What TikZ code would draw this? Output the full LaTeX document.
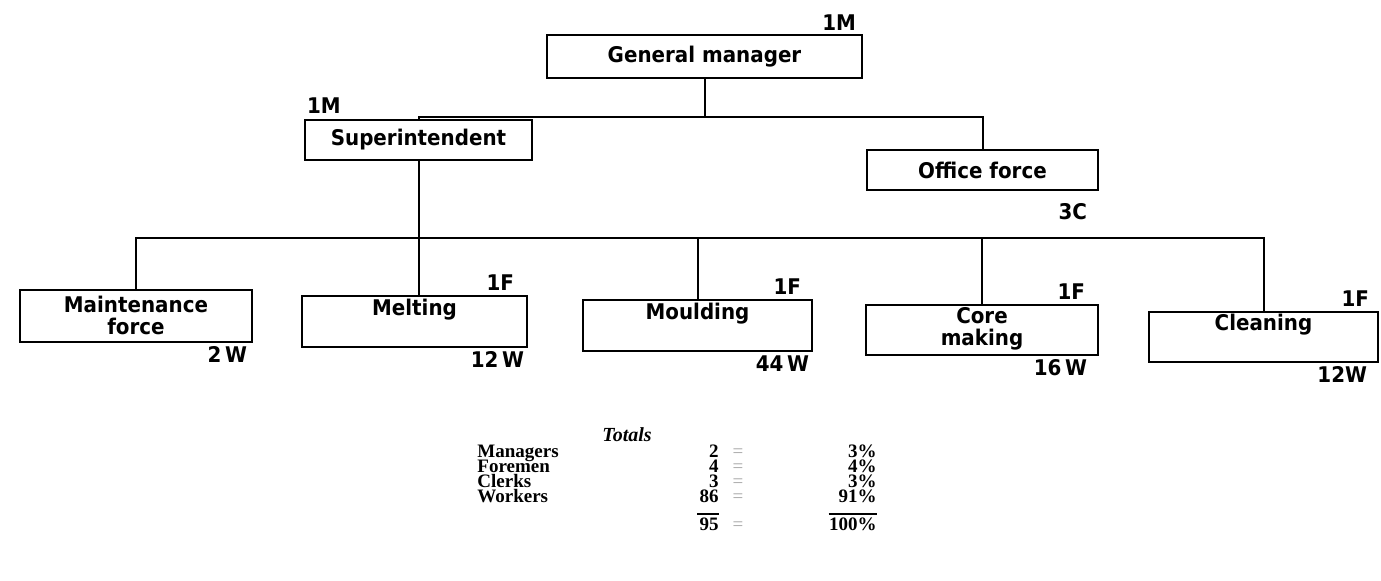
\documentclass[tikz,border=0pt]{standalone}
\usepackage{fontspec}
\setmainfont{Liberation Serif}
\newfontfamily\chartfont{DejaVu Sans}[FakeStretch=0.92]
\usetikzlibrary{calc}
\begin{document}
% one unit = 0.5pt, y grows downwards
\begin{tikzpicture}[x=0.5pt,y=-0.5pt,
  orgbox/.style={draw, line width=1.4pt, inner sep=0pt},
  link/.style={line width=1pt},
  lbl/.style={font=\chartfont\bfseries\fontsize{10.8}{12}\selectfont, inner sep=0pt},
  cnt/.style={font=\chartfont\bfseries\fontsize{10.8}{12}\selectfont, inner sep=0pt},
  tot/.style={font=\bfseries\fontsize{9.5}{10}\selectfont, inner sep=0pt,
              text height=6.4pt, text depth=0.6pt},
  eq/.style={font=\fontsize{9.5}{10}\selectfont, inner sep=0pt, text=black!35,
             text height=6.4pt, text depth=0.6pt}]
\useasboundingbox (0,0) rectangle (1381,580);

% boxes
\node[orgbox, minimum width=157.5pt, minimum height=21.5pt] (gm) at (704.5,56.5) {};
\node[orgbox, minimum width=113.5pt, minimum height=20pt] (sup) at (418.5,140) {};
\node[orgbox, minimum width=115.5pt, minimum height=20pt] (off) at (982.5,170) {};
\node[orgbox, minimum width=116pt, minimum height=26pt] (maint) at (136,316) {};
\node[orgbox, minimum width=112.5pt, minimum height=25.5pt] (melt) at (414.5,321.5) {};
\node[orgbox, minimum width=114.5pt, minimum height=25.5pt] (mould) at (697.5,325.5) {};
\node[orgbox, minimum width=116pt, minimum height=25pt] (core) at (982,330) {};
\node[orgbox, minimum width=114.5pt, minimum height=25pt] (clean) at (1263.5,337) {};

% box titles
\node[lbl] (tgm) at (gm) {General manager};
\node[lbl] (tsup) at (sup) {Superintendent};
\node[lbl] (toff) at (off) {Office force};
\node[lbl, align=center] (tmaint) at ($(maint)+(0,-1)$) {Maintenance\\[-1pt]force};
\node[lbl] (tmelt) at ($(melt)+(0,-12)$) {Melting};
\node[lbl] (tmould) at ($(mould)+(0,-12)$) {Moulding};
\node[lbl, align=center] (tcore) at ($(core)+(0,-1)$) {Core\\[-1pt]making};
\node[lbl] (tclean) at ($(clean)+(0,-12)$) {Cleaning};

% staff counts
\node[cnt, anchor=south east] (cgm) at ($(gm.north east)+(-7,-3)$) {1M};
\node[cnt, anchor=south west] (csup) at ($(sup.north west)+(3,-5)$) {1M};
\node[cnt, anchor=north east] (coff) at ($(off.south east)+(-12,12)$) {3C};
\node[cnt, anchor=north east] (wmaint) at ($(maint.south east)+(-6,3)$) {2\,W};
\node[cnt, anchor=south east] (fmelt) at ($(melt.north east)+(-14,-4)$) {1F};
\node[cnt, anchor=north east] (wmelt) at ($(melt.south east)+(-4,3)$) {12\,W};
\node[cnt, anchor=south east] (fmould) at ($(mould.north east)+(-12,-4)$) {1F};
\node[cnt, anchor=north east] (wmould) at ($(mould.south east)+(-4,3)$) {44\,W};
\node[cnt, anchor=north east] (wcore) at ($(core.south east)+(-12,3)$) {16\,W};
\node[cnt, anchor=south east] (fcore) at ($(core.north east)+(-14,-4)$) {1F};
\node[cnt, anchor=south east] (fclean) at ($(clean.north east)+(-10,-4)$) {1F};
\node[cnt, anchor=north east] (wclean) at ($(clean.south east)+(-12,3)$) {12W};

% connectors
\coordinate (busA) at (0,117);
\coordinate (busB) at (0,238);
\draw[link] (gm.south) -- (gm.south |- busA);
\draw[link] (sup.north) -- (sup.north |- busA) -- (off.north |- busA) -- (off.north);
\draw[link] (sup.south) -- (sup.south |- melt.north);
\draw[link] (maint.north) -- (maint.north |- busB) -- (clean.north |- busB) -- (clean.north);
\draw[link] (mould.north) -- (mould.north |- busB);
\draw[link] (core.north) -- (core.north |- busB);

% totals table
\node[tot, font=\bfseries\itshape\fontsize{10}{10}\selectfont, anchor=base] (ttl) at (627,441) {Totals};
\node[tot, anchor=base west] (rm) at (477,457) {Managers};
\node[tot, anchor=base west] (rf) at (477,472) {Foremen};
\node[tot, anchor=base west] (rc) at (477,487) {Clerks};
\node[tot, anchor=base west] (rw) at (477,502) {Workers};
\node[tot, anchor=base east] (nm) at (719,457) {2};
\node[tot, anchor=base east] (nf) at (719,472) {4};
\node[tot, anchor=base east] (nc) at (719,487) {3};
\node[tot, anchor=base east] (nw) at (719,502) {86};
\node[tot, anchor=base east] (ns) at (719,530) {95};
\node[eq, anchor=base] (em) at (738,457) {=};
\node[eq, anchor=base] (ef) at (738,472) {=};
\node[eq, anchor=base] (ec) at (738,487) {=};
\node[eq, anchor=base] (ew) at (738,502) {=};
\node[eq, anchor=base] (es) at (738,530) {=};
\node[tot, anchor=base east] (pm) at (877,457) {3\%};
\node[tot, anchor=base east] (pf) at (877,472) {4\%};
\node[tot, anchor=base east] (pc) at (877,487) {3\%};
\node[tot, anchor=base east] (pw) at (877,502) {91\%};
\node[tot, anchor=base east] (ps) at (877,530) {100\%};
\draw[line width=0.8pt] ($(ns.north west)+(-2,-3)$) -- ($(ns.north east)+(0,-3)$);
\draw[line width=0.8pt] ($(ps.north west)+(0,-3)$) -- ($(ps.north east)+(0,-3)$);
\end{tikzpicture}
\end{document}
